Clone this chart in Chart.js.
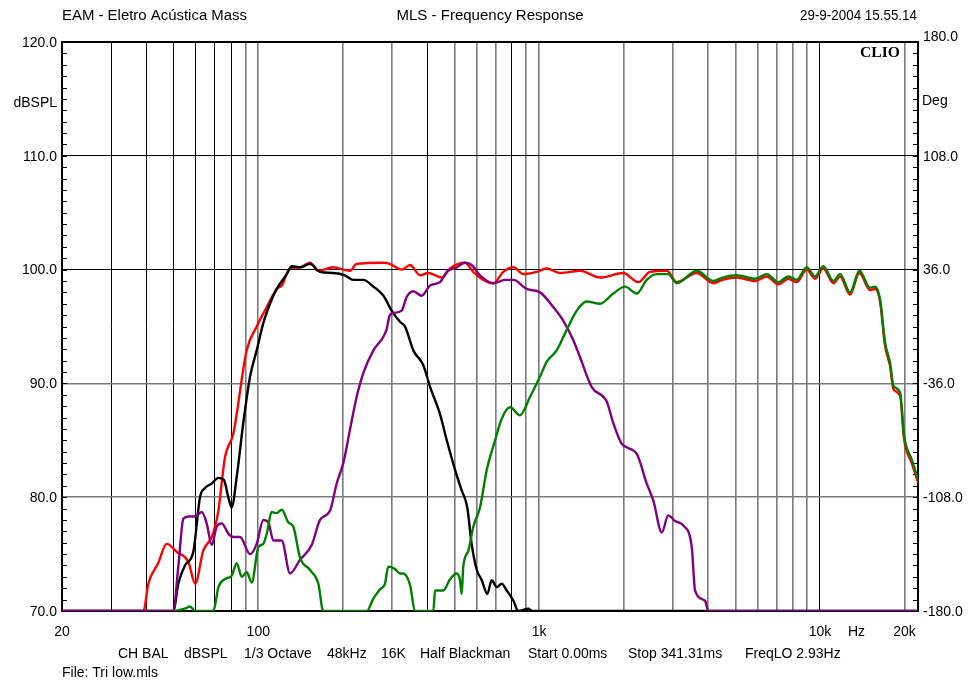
<!DOCTYPE html>
<html>
<head>
<meta charset="utf-8">
<script src="https://cdn.jsdelivr.net/npm/chart.js@4.4.0/dist/chart.umd.min.js"></script>
<style>
  html, body { margin: 0; padding: 0; background: #fff; }
  #wrap { width: 968px; height: 690px; }
</style>
</head>
<body>
<div id="wrap"><canvas id="chart" width="968" height="690"></canvas></div>
<script>
// frequency axis (Hz) and level axis (dBSPL)
const xMin = 20, xMax = 22350;
const yMin = 70, yMax = 120;
const xGrid = [30, 40, 50, 60, 70, 80, 90, 100, 200, 300, 400, 500, 600, 700, 800, 900,
               1000, 2000, 3000, 4000, 5000, 6000, 7000, 8000, 9000, 10000, 20000];
const yGrid = [80, 90, 100, 110];
const xTickVals = [20, 100, 1000, 10000, 13500, 20000];
const xTickLabels = ['20', '100', '1k', '10k', 'Hz', '20k'];
const leftTickVals = [120, 110, 100, 90, 80, 70];
const leftTickLabels = ['120.0', '110.0', '100.0', '90.0', '80.0', '70.0'];
const degTickVals = [180, 108, 36, -36, -108, -180];
const degTickLabels = ['180.0', '108.0', '36.0', '-36.0', '-108.0', '-180.0'];

// red: total response
const redHz = [20, 39, 40.6, 44, 47.2, 51.2, 56.4, 59.6, 63.7, 68.3, 70.1, 72.1, 76.1, 81.5, 90.9, 98.7,
  107.2, 116.3, 121.2, 129.7, 140.8, 152.9, 163.6, 185, 212, 224, 279, 294, 324, 347, 377, 403, 450,
  482, 545, 583, 633, 687, 746, 810, 879, 980, 1064, 1187, 1399, 1648, 1995, 2256, 2483, 2848, 3092,
  3640, 4174, 4500, 5056, 5876, 6466, 7111, 7719, 8267, 8975, 9608, 10284, 11163, 11798, 12800, 13818,
  15085, 15716, 16374, 17060, 17777, 18269, 19300, 19940, 21240, 22350];
const redDb = [70, 70, 72.4, 74.2, 75.9, 75.2, 74.3, 72.4, 75.3, 76.5, 77.4, 78.8, 83.5, 85.6, 92.9, 95.0,
  96.7, 98.3, 98.6, 100.1, 100.2, 100.6, 99.9, 100.2, 99.9, 100.5, 100.6, 100.5, 100.0, 100.4, 99.5, 99.7, 99.3,
  100.1, 100.6, 99.8, 99.1, 98.8, 99.8, 100.2, 99.6, 99.8, 100.1, 99.7, 99.9, 99.3, 99.7, 98.9, 99.8, 99.9, 98.9,
  99.7, 98.8, 99.1, 99.3, 99.0, 99.4, 98.7, 99.2, 98.9, 100.0, 99.2, 100.1, 98.8, 99.4, 97.8, 99.7,
  98.2, 98.3, 97.2, 93.3, 91.5, 89.5, 88.9, 85.1, 83.0, 81.3];

// black: low section
const blackHz = [20, 49.8, 51.9, 54.8, 58.7, 62, 64.6, 68.3, 72.1, 75.5, 78.2, 80.4, 83.8, 88.4, 93.5, 98.7,
  104.2, 110.1, 116.3, 126.3, 131.6, 140.8, 152.9, 165.9, 185, 203.6, 218, 236.6, 257, 279, 300, 320, 333,
  356.6, 387, 409, 443.7, 469, 502, 530, 555, 575, 600, 625, 654, 678, 707, 736, 767, 810, 843, 916, 945, 22350];
const blackDb = [70, 70, 72.4, 74.0, 75.2, 80.0, 80.8, 81.2, 81.7, 81.5, 80.0, 79.1, 81.8, 86.5, 90.6, 92.9,
  95.3, 97.0, 98.3, 99.6, 100.3, 100.2, 100.5, 99.8, 99.7, 99.5, 99.1, 99.1, 98.5, 97.7, 96.3, 95.4, 95.0,
  92.9, 91.6, 89.7, 87.3, 85.0, 82.4, 80.6, 79.1, 75.9, 73.6, 72.7, 71.5, 72.7, 72.1, 72.4, 71.8, 70.9, 70, 70.2, 70, 70];

// purple: mid section
const purpleHz = [20, 49.8, 51.9, 54.1, 56.4, 59.6, 62.9, 65.5, 68.3, 71.1, 74.1, 78.2, 81.5, 86.1, 93.5, 98.7,
  104.2, 108.6, 113.1, 121.2, 129.7, 140.8, 155, 165.9, 180, 190.2, 200.8, 212, 224, 236.6, 257, 279, 286,
  294, 302.7, 324, 337.7, 356.6, 382, 409, 443.7, 469, 509, 545, 575, 616, 687, 756, 810, 903, 1008, 1124,
  1220, 1324, 1399, 1538, 1741, 1838, 1969, 2227, 2417, 2552, 2734, 2885, 3049, 3265, 3497, 3593, 3899, 4005, 22350];
const purpleDb = [70, 70, 73.9, 78.1, 78.3, 78.3, 78.7, 77.7, 75.8, 77.4, 77.7, 76.8, 76.5, 76.5, 75.0, 75.9,
  78.0, 77.8, 76.2, 76.2, 73.3, 74.5, 75.8, 78.0, 78.8, 81.2, 83.0, 85.9, 88.8, 90.9, 92.9, 94.1, 94.7,
  96.0, 96.2, 96.4, 97.6, 98.1, 97.7, 98.6, 98.9, 99.8, 100.2, 100.6, 100.4, 99.5, 98.8, 99.1, 99.1, 98.3, 98.0, 96.7,
  95.5, 93.8, 92.3, 89.7, 88.4, 86.5, 84.7, 83.8, 81.2, 79.7, 76.9, 78.4, 77.9, 77.5, 75.6, 71.8, 70.9, 70, 70];

// green: high section
const greenHz = [50, 54.8, 57.1, 59.6, 69.2, 72.1, 76.1, 80.4, 83.8, 87.3, 90.9, 94.8, 100, 104.2, 107.2, 111.6,
  116.3, 121.2, 127.9, 133.3, 140.8, 152.9, 163.6, 170.4, 243.3, 257, 271, 282.6, 290.4, 306, 320, 328.6, 347,
  361.5, 420, 426, 456, 482, 509, 523, 530, 537, 560, 583, 616, 651, 697, 736, 788, 855, 928, 1008, 1064, 1155,
  1254, 1362, 1477, 1648, 1838, 2023, 2227, 2417, 2624, 2885, 3092, 3640, 4174, 4500, 5056, 5876, 6466, 7111,
  7719, 8267, 8975, 9608, 10284, 11163, 11798, 12800, 13818, 15085, 15716, 16374, 17060, 17777, 18269, 19300,
  19940, 21240, 22350];
const greenDb = [70, 70.2, 70.4, 70, 70, 72.1, 72.8, 73.1, 74.2, 73.0, 73.4, 72.5, 75.6, 75.9, 76.8, 78.7,
  78.6, 78.9, 77.8, 77.4, 74.7, 73.6, 72.4, 70, 70, 71.1, 71.9, 72.4, 73.9, 73.7, 73.3, 73.3, 72.3,
  70, 70, 71.8, 71.8, 72.8, 73.3, 72.7, 71.5, 73.9, 75.3, 77.4, 79.1, 82.4, 85.0, 86.9, 87.9, 87.2, 88.8, 90.6, 91.9, 92.9,
  94.7, 96.4, 97.2, 97.0, 97.9, 98.5, 97.9, 99.1, 99.6, 99.6, 98.8, 99.9, 99.0, 99.3, 99.5, 99.2, 99.6, 98.9,
  99.4, 99.1, 100.2, 99.4, 100.3, 99.0, 99.6, 98.0, 99.9, 98.4, 98.5, 97.4, 93.6, 91.8, 89.8, 89.2,
  85.4, 83.3, 81.6];

function pts(hz, db) {
  return hz.map((f, i) => ({ x: f, y: db[i] }));
}

const darkGridX = [30, 40, 50, 60, 70, 80, 400, 800, 10000];

function fitText(ctx, txt, x, y, w, align) {
  const m = ctx.measureText(txt).width;
  const s = w ? w / m : 1;
  const ww = m * s;
  let x0 = x;
  if (align === 'center') x0 = x - ww / 2;
  else if (align === 'right') x0 = x - ww;
  ctx.save();
  ctx.textAlign = 'left';
  ctx.translate(x0, y);
  ctx.scale(s, 1);
  ctx.fillText(txt, 0, 0);
  ctx.restore();
}

const frame = {
  id: 'frame',
  beforeDatasetsDraw(chart) {
    const { ctx, chartArea: a } = chart;
    const ys = chart.scales.y;
    ctx.save();
    ctx.strokeStyle = '#000';
    ctx.lineWidth = 1;
    for (let v = yMin + 1; v < yMax; v++) {
      const py = Math.round(ys.getPixelForValue(v)) + 0.5;
      ctx.beginPath();
      ctx.moveTo(a.left, py); ctx.lineTo(a.left + 5, py);
      ctx.moveTo(a.right - 5, py); ctx.lineTo(a.right, py);
      ctx.stroke();
    }
    ctx.lineWidth = 2;
    ctx.strokeRect(a.left, a.top, a.right - a.left, a.bottom - a.top);
    ctx.restore();
  },
  afterDraw(chart) {
    const { ctx, chartArea: a } = chart;
    const xs = chart.scales.x, ys = chart.scales.y, y2 = chart.scales.y2;
    ctx.save();
    ctx.fillStyle = '#000';
    ctx.font = '14px "Liberation Sans", Arial, sans-serif';
    ctx.textBaseline = 'middle';

    // header
    fitText(ctx, 'EAM - Eletro Acústica Mass', 62, 16, 185, 'left');
    fitText(ctx, 'MLS - Frequency Response', 490, 16, 187, 'center');
    fitText(ctx, '29-9-2004 15.55.14', 917, 16, 117, 'right');

    // left axis
    ctx.textAlign = 'right';
    leftTickVals.forEach((v, i) => {
      ctx.fillText(leftTickLabels[i], 57, ys.getPixelForValue(v) + 1);
    });
    ctx.fillText('dBSPL', 57, 103);

    // right axis
    ctx.textAlign = 'left';
    degTickVals.forEach((v, i) => {
      const off = v === 180 ? -5 : 1;
      ctx.fillText(degTickLabels[i], 923, y2.getPixelForValue(v) + off);
    });
    ctx.fillText('Deg', 922, 101);

    // frequency axis
    ctx.textAlign = 'center';
    xTickVals.forEach((v, i) => {
      ctx.fillText(xTickLabels[i], xs.getPixelForValue(v), a.bottom + 21);
    });

    // footer
    ctx.textAlign = 'left';
    const foot = [['CH BAL', 118], ['dBSPL', 184], ['1/3 Octave', 244], ['48kHz', 327], ['16K', 381],
                  ['Half Blackman', 420], ['Start 0.00ms', 528], ['Stop 341.31ms', 628], ['FreqLO 2.93Hz', 745]];
    foot.forEach(f => ctx.fillText(f[0], f[1], 654));
    ctx.fillText('File: Tri low.mls', 62, 673);

    // CLIO mark
    ctx.font = 'bold 14px "Liberation Serif", "DejaVu Serif", serif';
    fitText(ctx, 'CLIO', 860, 53, 40, 'left');
    ctx.restore();
  }
};

new Chart(document.getElementById('chart'), {
  type: 'line',
  data: {
    datasets: [
      { label: 'high', data: pts(greenHz, greenDb), borderColor: '#008000' },
      { label: 'mid', data: pts(purpleHz, purpleDb), borderColor: '#800080' },
      { label: 'low', data: pts(blackHz, blackDb), borderColor: '#000000' },
      { label: 'total', data: pts(redHz, redDb), borderColor: '#ff0000' }
    ]
  },
  options: {
    responsive: false,
    animation: false,
    devicePixelRatio: 1,
    layout: { padding: { left: 62, right: 50, top: 42, bottom: 79 } },
    plugins: { legend: { display: false }, tooltip: { enabled: false } },
    elements: {
      point: { radius: 0 },
      line: { borderWidth: 2.4, cubicInterpolationMode: 'monotone', fill: false }
    },
    scales: {
      x: {
        type: 'logarithmic', min: xMin, max: xMax,
        afterBuildTicks: s => { s.ticks = xGrid.map(v => ({ value: v })); },
        ticks: { display: false },
        grid: {
          drawTicks: false,
          color: c => darkGridX.includes(c.tick && c.tick.value) ? '#000' : '#7a7a7a',
          lineWidth: c => darkGridX.includes(c.tick && c.tick.value) ? 1 : 1.6
        },
        border: { display: false }
      },
      y: {
        min: yMin, max: yMax,
        afterBuildTicks: s => { s.ticks = yGrid.map(v => ({ value: v })); },
        ticks: { display: false },
        grid: {
          drawTicks: false,
          color: c => (c.tick && c.tick.value >= 100) ? '#000' : '#7a7a7a',
          lineWidth: c => (c.tick && c.tick.value >= 100) ? 1 : 1.6
        },
        border: { display: false }
      },
      y2: {
        position: 'right', min: -180, max: 180,
        ticks: { display: false },
        grid: { display: false, drawTicks: false },
        border: { display: false }
      }
    }
  },
  plugins: [frame]
});
</script>
</body>
</html>
